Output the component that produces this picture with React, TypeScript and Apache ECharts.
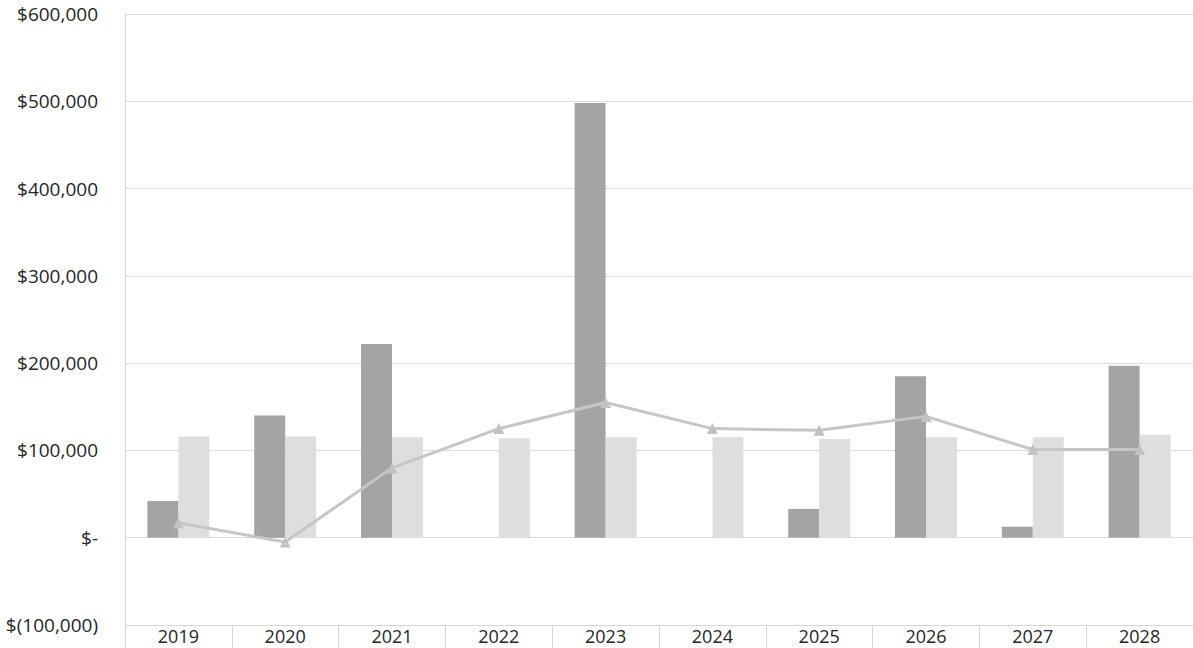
import React, { useEffect, useRef } from "react";
import * as echarts from "echarts";

const years = ["2019", "2020", "2021", "2022", "2023", "2024", "2025", "2026", "2027", "2028"];
const darkBars = [42000, 140000, 222000, 0, 498000, 0, 33000, 185000, 12500, 197000];
const lightBars = [116000, 116000, 115000, 114000, 115000, 115000, 113000, 115000, 115000, 118000];
const lineValues = [17000, -5000, 80000, 125000, 155000, 125000, 123000, 139000, 101000, 101000];

const yMin = -100000;
const yMax = 600000;
const yStep = 100000;

function fmtMoney(v: number): string {
  if (v === 0) return "$-";
  const s = Math.abs(v).toLocaleString("en-US");
  return v < 0 ? `$(${s})` : `$${s}`;
}

export default function App() {
  const ref = useRef<HTMLDivElement>(null);
  useEffect(() => {
    if (!ref.current) return;
    const chart = echarts.init(ref.current, null, { renderer: "svg" });
    const font = "'Open Sans', 'Liberation Sans', sans-serif";
    chart.setOption({
      animation: false,
      backgroundColor: "#ffffff",
      grid: { left: 125, top: 14, width: 1075, height: 611, containLabel: false },
      xAxis: {
        type: "category",
        data: years,
        boundaryGap: true,
        axisLine: { show: true, onZero: false, lineStyle: { color: "#d6d6d6", width: 1 } },
        axisTick: { show: true, alignWithLabel: false, length: 30, lineStyle: { color: "#d6d6d6" } },
        axisLabel: { margin: 2, fontSize: 18, color: "#262626", fontFamily: font },
        splitLine: { show: false },
      },
      yAxis: {
        type: "value",
        min: yMin,
        max: yMax,
        interval: yStep,
        axisLine: { show: true, lineStyle: { color: "#d6d6d6", width: 1 } },
        axisTick: { show: false },
        axisLabel: {
          margin: 27,
          fontSize: 19,
          color: "#262626",
          fontFamily: font,
          formatter: (v: number) => fmtMoney(v),
        },
        splitLine: { show: true, lineStyle: { color: "#dcdcdc", width: 1 } },
      },
      series: [
        {
          type: "bar",
          data: darkBars,
          barWidth: 31,
          barGap: "0%",
          itemStyle: { color: "#a4a4a4" },
        },
        {
          type: "bar",
          data: lightBars,
          barWidth: 31,
          barGap: "0%",
          itemStyle: { color: "#dedede" },
        },
        {
          type: "line",
          data: lineValues,
          symbol: "triangle",
          symbolSize: 11,
          lineStyle: { color: "#c6c6c6", width: 3 },
          itemStyle: { color: "#c2c2c2" },
          z: 5,
        },
      ],
    });
    return () => chart.dispose();
  }, []);
  return (
    <div
      ref={ref}
      style={{ position: "fixed", left: 0, top: 0, width: 1193, height: 648, background: "#fff" }}
    />
  );
}
